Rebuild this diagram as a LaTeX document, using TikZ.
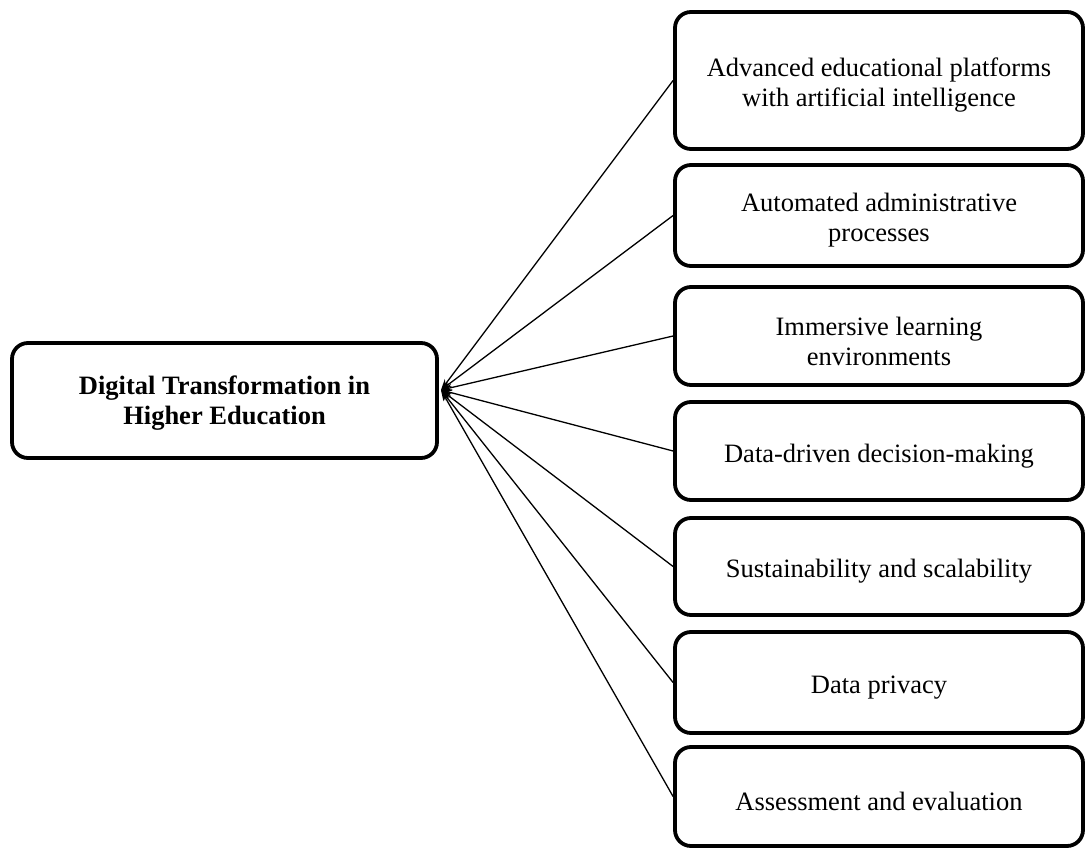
\documentclass[tikz,border=0pt]{standalone}
\usepackage{fontspec}
\setmainfont{Liberation Serif}
\usetikzlibrary{arrows.meta}
\begin{document}
\begin{tikzpicture}[x=1pt,y=-1pt,
  box/.style={draw,line width=3.8pt,rounded corners=16pt,inner sep=0pt},
  rbox/.style={box,minimum width=408pt},
  txt/.style={align=center,font=\fontsize{26.5}{30}\selectfont,inner sep=0pt,yshift=-5pt},
  conn/.style={line width=1.3pt,-{Stealth[length=11pt,width=7pt]}}]
\useasboundingbox (0,0) rectangle (1085,848);
\node[box,minimum width=425pt,minimum height=115pt] (main) at (224.5,400.5) {};
\node[txt,yshift=2pt,font=\fontsize{26.5}{30}\selectfont\bfseries] (maintxt) at (main) {Digital Transformation in\\Higher Education};
\coordinate (hub) at (441,390);
\node[rbox,minimum height=137pt] (b1) at (879,80.5) {};
\node[rbox,minimum height=101pt] (b2) at (879,215.5) {};
\node[rbox,minimum height=98pt] (b3) at (879,336) {};
\node[rbox,minimum height=98pt] (b4) at (879,451) {};
\node[rbox,minimum height=97pt] (b5) at (879,566.5) {};
\node[rbox,minimum height=101pt] (b6) at (879,682.5) {};
\node[rbox,minimum height=99pt] (b7) at (879,796.5) {};
\node[txt] (t1) at (b1) {Advanced educational platforms\\with artificial intelligence};
\node[txt] (t2) at (b2) {Automated administrative\\processes};
\node[txt] (t3) at (b3) {Immersive learning\\environments};
\node[txt] (t4) at (b4) {Data-driven decision-making};
\node[txt] (t5) at (b5) {Sustainability and scalability};
\node[txt] (t6) at (b6) {Data privacy};
\node[txt] (t7) at (b7) {Assessment and evaluation};
\foreach \b in {b1,b2,b3,b4,b5,b6,b7}{\draw[conn] (\b.west) -- (hub);}
\end{tikzpicture}
\end{document}
